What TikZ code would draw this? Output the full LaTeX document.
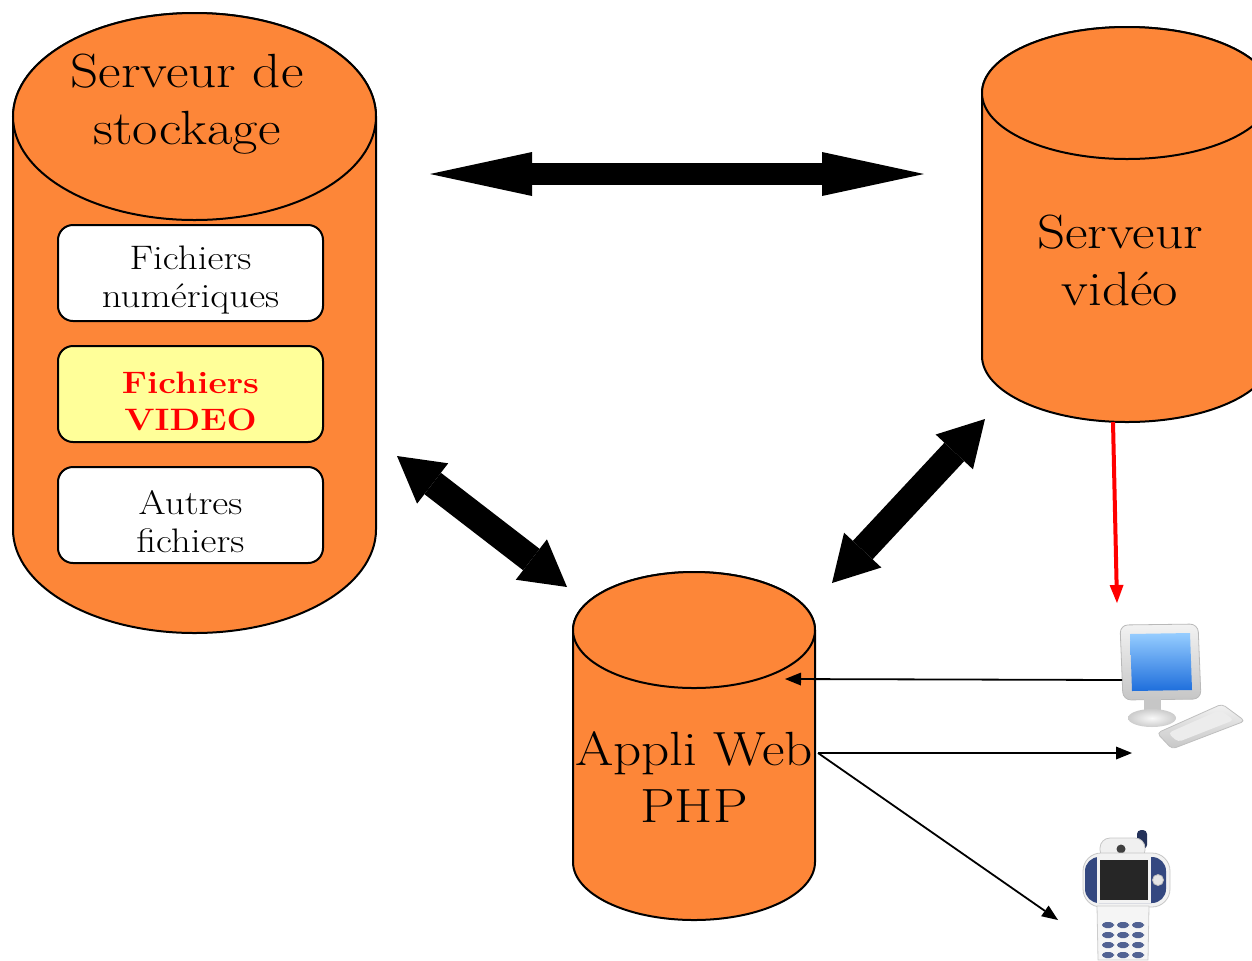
\documentclass[tikz,border=0pt]{standalone}
\usepackage{fontspec}
\setmainfont{Latin Modern Roman}[FakeStretch=1.15]
\usetikzlibrary{arrows.meta}

\definecolor{cylorange}{RGB}{253,134,56}
\definecolor{boxyellow}{RGB}{255,255,153}
\definecolor{phoneblue}{RGB}{52,72,128}

% cylinder: centre x, x radius, y radius, top y, bottom y
\newcommand{\cylinder}[5]{%
  \filldraw[cyl] (#1-#2,#4) -- (#1-#2,#5)
    arc[start angle=180,end angle=0,x radius=#2,y radius=#3] -- (#1+#2,#4)
    arc[start angle=0,end angle=-180,x radius=#2,y radius=#3] -- cycle;
  \draw[cyl] (#1,#4) ellipse[x radius=#2,y radius=#3];}

\begin{document}
\begin{tikzpicture}[x=0.5pt,y=-0.5pt,
  cyl/.style={draw=black,line width=1pt,fill=cylorange},
  filebox/.style={draw,line width=1pt,rounded corners=7.5pt,fill=white,
    minimum width=132.5pt,minimum height=48pt},
  filetext/.style={align=center,yshift=-3.5pt,font=\fontsize{17}{19}\selectfont},
  bigtext/.style={align=center,font=\fontsize{24}{28.5}\selectfont},
  fatarrow/.style={line width=11pt,
    {Triangle[length=51pt,width=22pt,line width=0pt]}-{Triangle[length=51pt,width=22pt,line width=0pt]}},
  diagarrow/.style={line width=13.5pt,
    {Triangle[length=22.5pt,width=25.5pt,line width=0pt]}-{Triangle[length=22.5pt,width=25.5pt,line width=0pt]}},
  thinarrow/.style={line width=0.9pt,-{Triangle[length=8pt,width=6.5pt,line width=0pt]}},
]
\useasboundingbox (0,0) rectangle (1252,960);

% the three servers
\cylinder{194.5}{181.5}{103.5}{116.5}{529.5}
\cylinder{1127}{145}{66}{93}{356}
\cylinder{694}{121}{58}{630}{862}

\node[bigtext] (stock) at (187,104) {Serveur de\\stockage};
\node[bigtext] (video) at (1120,260) {Serveur\\ vid\'eo};
\node[bigtext] (appli) at (694,777) {Appli Web\\PHP};

% file kinds kept on the storage server
\node[filebox,label={[filetext]center:{Fichiers\\num\'eriques}}] (num) at (190.5,273) {};
\node[filebox,fill=boxyellow,
  label={[filetext,text=red,font=\fontsize{15.5}{18.5}\selectfont\bfseries]center:{Fichiers\\VIDEO}}] (vid) at (190.5,394) {};
\node[filebox,label={[filetext]center:{Autres\\fichiers}}] (autres) at (190.5,515) {};

% computer
\shade[rounded corners=4pt,top color=gray!10,bottom color=gray!45,draw=gray!55]
  (1120,625) -- (1198,624) -- (1201,699) -- (1123,700) -- cycle;
\shade[top color={rgb,255:red,150;green,205;blue,255},bottom color={rgb,255:red,30;green,110;blue,220}]
  (1130,634) -- (1190,633) -- (1192,690) -- (1132,691) -- cycle;
\fill[gray!45] (1144,699) rectangle (1161,714);
\shade[inner color=gray!5,outer color=gray!40] (1152,718) ellipse[x radius=24,y radius=9];
\shade[rounded corners=2pt,top color=gray!10,bottom color=gray!45,draw=gray!50]
  (1157,733) -- (1222,704) -- (1245,721) -- (1172,749) -- cycle;
\fill[rounded corners=2pt,white!85!gray] (1168,733) -- (1220,710) -- (1234,720) -- (1178,742) -- cycle;
\coordinate (pc) at (1160,690);

% mobile phone
\fill[rounded corners=2pt,phoneblue!70!black] (1137,830) rectangle (1147,849);
\filldraw[rounded corners=5pt,fill=gray!12,draw=gray!45] (1100,838) rectangle (1145,860);
\fill[black!75] (1121,849) circle (4.5);
\filldraw[rounded corners=9pt,fill=gray!10,draw=gray!45] (1083,853) rectangle (1170,907);
\fill[rounded corners=7pt,phoneblue] (1085,857) rectangle (1166,903);
\fill[gray!10] (1097,857) rectangle (1151,903);
\fill[black!85] (1100,860) rectangle (1148,900);
\filldraw[fill=gray!20,draw=gray!50] (1158,880) circle (5.5);
\filldraw[fill=gray!8,draw=gray!40] (1097,906) -- (1149,906) -- (1148,960) -- (1098,960) -- cycle;
\foreach \r in {0,...,3}
  \foreach \c in {0,1,2}
    \fill[rounded corners=2pt,phoneblue!85] (1102+\c*15,922+\r*10) rectangle (1114+\c*15,928+\r*10);
\coordinate (phone) at (1125,895);

% connector ends
\coordinate (stockE) at (430,174);
\coordinate (videoW) at (924,174);
\coordinate (stockSE) at (397,456);
\coordinate (appliNW) at (567,587);
\coordinate (videoSW) at (985,419);
\coordinate (appliNE) at (832,583);
\coordinate (videoS) at (1113,422);
\coordinate (pcN) at (1117,603);
\coordinate (pcW) at (1122,680);
\coordinate (appliIn) at (785,679);
\coordinate (appliOut) at (818,753);
\coordinate (pcIn) at (1132,753);
\coordinate (phoneIn) at (1058,920);

\draw[fatarrow] (stockE) -- (videoW);
\draw[diagarrow] (stockSE) -- (appliNW);
\draw[diagarrow] (videoSW) -- (appliNE);
\draw[red,line width=2pt,-{Triangle[length=9pt,width=7pt,line width=0pt]}] (videoS) -- (pcN);
\draw[thinarrow] (pcW) -- (appliIn);
\draw[thinarrow] (appliOut) -- (pcIn);
\draw[thinarrow] (appliOut) -- (phoneIn);
\end{tikzpicture}
\end{document}
